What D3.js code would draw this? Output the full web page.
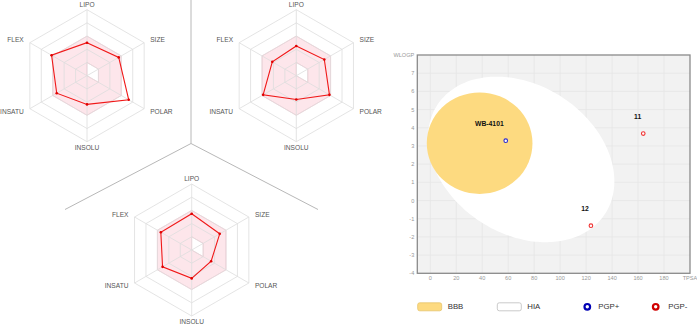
<!DOCTYPE html>
<html>
<head>
<meta charset="utf-8">
<script src="https://cdn.jsdelivr.net/npm/d3@7"></script>
<style>
  html, body { margin: 0; padding: 0; background: #fff; }
  svg { display: block; font-family: "Liberation Sans", Arial, sans-serif; }
</style>
</head>
<body>
<div id="chart"></div>
<script>
// radar axes, clockwise from the top
const radarAxes = ["LIPO", "SIZE", "POLAR", "INSOLU", "INSATU", "FLEX"];
// optimal range (pink zone), as fraction of the radar radius
const optimalUpper = [0.6, 0.6, 0.6, 0.6, 0.6, 0.6];
const optimalLower = [0.2, 0.2, 0.2, 0, 0, 0];
// one row per molecule
const radarValues = [
    [0.50, 0.555, 0.73, 0.435, 0.53, 0.62],
    [0.45, 0.49, 0.58, 0.36, 0.58, 0.42],
    [0.55, 0.49, 0.34, 0.43, 0.51, 0.54]
];
const radarRings = [0.2, 0.4, 0.6, 0.8, 1.0];

// boiled egg
const xTicks = [0, 20, 40, 60, 80, 100, 120, 140, 160, 180, 200];
const yTicks = [-4, -3, -2, -1, 0, 1, 2, 3, 4, 5, 6, 7, 8];
const molNames = ["WB-4101", "11", "12"];
const molTPSA = [58.1, 164, 123.7];
const molWLOGP = [3.29, 3.68, -1.38];
const molPGP = ["PGP+", "PGP-", "PGP-"];
// yolk (BBB): centre and half widths in data units
const yolk = {cx: 38, cy: 3.15, rx: 40.7, ry: 2.79};
// white (HIA): centre and two conjugate half diameters in data units
const white = {cx: 70, cy: 2.26, a: [64.6, -2.99], b: [-31.25, -3.43]};
const legendItems = ["BBB", "HIA", "PGP+", "PGP-"];

const W = 697, H = 324;
const svg = d3.select("#chart").append("svg")
    .attr("width", W)
    .attr("height", H);

// --- divider between the three radars
const divider = svg.append("g")
    .attr("stroke", "#b8b8b8")
    .attr("stroke-width", 1)
    .attr("fill", "none");
divider.append("path").attr("d", "M191,0 L191,143.5 L65,209.5 M191,143.5 L318,209.5");

// --- radars
const R = 66;
const rScale = d3.scaleLinear().domain([0, 1]).range([0, R]);
const angle = i => i * Math.PI / 3;   // 0 = up, clockwise
const radarCenters = [[87, 75.7], [296.3, 75.7], [191.7, 250]];

const radial = d3.lineRadial()
    .angle((d, i) => angle(i))
    .radius(d => rScale(d))
    .curve(d3.curveLinearClosed);

radarValues.forEach((vals, k) => {
    const [cx, cy] = radarCenters[k];
    const g = svg.append("g").attr("transform", `translate(${cx},${cy})`);

    // pink optimal zone with its hole
    g.append("path")
        .attr("d", radial(optimalUpper) + radial(optimalLower))
        .attr("fill-rule", "evenodd")
        .attr("fill", "rgba(240,60,100,0.13)")
        .attr("stroke", "rgba(240,60,100,0.25)")
        .attr("stroke-width", 0.8);

    // grid
    g.selectAll(".ring")
        .data(radarRings)
        .join("path")
        .attr("class", "ring")
        .attr("d", r => radial(radarAxes.map(() => r)))
        .attr("fill", "none")
        .attr("stroke", "#ddd")
        .attr("stroke-width", 0.8);

    g.selectAll(".spoke")
        .data(radarAxes)
        .join("line")
        .attr("class", "spoke")
        .attr("x1", 0).attr("y1", 0)
        .attr("x2", (d, i) => rScale(1) * Math.sin(angle(i)))
        .attr("y2", (d, i) => -rScale(1) * Math.cos(angle(i)))
        .attr("stroke", "#ddd")
        .attr("stroke-width", 0.8);

    // labels
    g.selectAll(".axlabel")
        .data(radarAxes)
        .join("text")
        .attr("class", "axlabel")
        .text(d => d)
        .attr("x", (d, i) => (rScale(1) + 7) * Math.sin(angle(i)))
        .attr("y", (d, i) => -(rScale(1) + 5.5) * Math.cos(angle(i)))
        .attr("text-anchor", (d, i) => {
            const s = Math.sin(angle(i));
            return Math.abs(s) < 0.01 ? "middle" : (s > 0 ? "start" : "end");
        })
        .attr("dominant-baseline", "central")
        .attr("font-size", 6.6)
        .attr("fill", "#555");

    // molecule
    g.append("path")
        .attr("d", radial(vals))
        .attr("fill", "none")
        .attr("stroke", "#f01818")
        .attr("stroke-width", 1.1);

    g.selectAll(".dot")
        .data(vals)
        .join("circle")
        .attr("class", "dot")
        .attr("cx", (d, i) => rScale(d) * Math.sin(angle(i)))
        .attr("cy", (d, i) => -rScale(d) * Math.cos(angle(i)))
        .attr("r", 1.3)
        .attr("fill", "#e00000");
});

// --- boiled egg
const x = d3.scaleLinear().domain([-10, 200]).range([417.3, 690]);
const y = d3.scaleLinear().domain([-4, 8]).range([273.3, 55]);

const plot = svg.append("g");
plot.append("rect")
    .attr("x", x(-10)).attr("y", y(8))
    .attr("width", x(200) - x(-10)).attr("height", y(-4) - y(8))
    .attr("fill", "#f2f2f2");

plot.selectAll(".vgrid")
    .data(xTicks.slice(0, -1))
    .join("line")
    .attr("class", "vgrid")
    .attr("x1", d => x(d)).attr("x2", d => x(d))
    .attr("y1", y(8)).attr("y2", y(-4))
    .attr("stroke", "#e6e6e6").attr("stroke-width", 0.8);

plot.selectAll(".hgrid")
    .data(yTicks.slice(1, -1))
    .join("line")
    .attr("class", "hgrid")
    .attr("y1", d => y(d)).attr("y2", d => y(d))
    .attr("x1", x(-10)).attr("x2", x(200))
    .attr("stroke", "#e6e6e6").attr("stroke-width", 0.8);

// white (HIA)
const whitePts = d3.range(0, 360, 3).map(t => {
    const r = t * Math.PI / 180;
    return [x(white.cx + white.a[0] * Math.cos(r) + white.b[0] * Math.sin(r)),
            y(white.cy + white.a[1] * Math.cos(r) + white.b[1] * Math.sin(r))];
});
plot.append("path")
    .attr("d", d3.line().curve(d3.curveCardinalClosed)(whitePts))
    .attr("fill", "#fff");

// yolk (BBB)
plot.append("ellipse")
    .attr("cx", x(yolk.cx)).attr("cy", y(yolk.cy))
    .attr("rx", x(yolk.cx + yolk.rx) - x(yolk.cx))
    .attr("ry", y(yolk.cy - yolk.ry) - y(yolk.cy))
    .attr("fill", "#fdda80");

// frame
plot.append("rect")
    .attr("x", x(-10)).attr("y", y(8))
    .attr("width", x(200) - x(-10)).attr("height", y(-4) - y(8))
    .attr("fill", "none")
    .attr("stroke", "#8a8a8a")
    .attr("stroke-width", 1.3);

// tick labels
plot.selectAll(".ylab")
    .data(yTicks)
    .join("text")
    .attr("class", "ylab")
    .text(d => d === 8 ? "WLOGP" : d)
    .attr("x", x(-10) - 3)
    .attr("y", d => y(d))
    .attr("text-anchor", "end")
    .attr("dominant-baseline", "central")
    .attr("font-size", 5.6)
    .attr("fill", "#999");

plot.selectAll(".xlab")
    .data(xTicks)
    .join("text")
    .attr("class", "xlab")
    .text(d => d === 200 ? "TPSA" : d)
    .attr("x", d => x(d))
    .attr("y", y(-4) + 5)
    .attr("text-anchor", "middle")
    .attr("dominant-baseline", "central")
    .attr("font-size", 5.6)
    .attr("fill", "#999");

// molecules
const pgpColor = {"PGP+": "#2a2ad0", "PGP-": "#f03030"};
plot.selectAll(".mol")
    .data(molNames)
    .join("circle")
    .attr("class", "mol")
    .attr("cx", (d, i) => x(molTPSA[i]))
    .attr("cy", (d, i) => y(molWLOGP[i]))
    .attr("r", 1.8)
    .attr("fill", "#fff")
    .attr("stroke", (d, i) => pgpColor[molPGP[i]])
    .attr("stroke-width", 1.1);

plot.selectAll(".molname")
    .data(molNames)
    .join("text")
    .attr("class", "molname")
    .text(d => d)
    .attr("x", (d, i) => x(molTPSA[i]) - 2)
    .attr("y", (d, i) => y(molWLOGP[i]) - 15)
    .attr("text-anchor", "end")
    .attr("font-size", 6.8)
    .attr("font-weight", "bold")
    .attr("fill", "#111");

// legend
const legendX = [417.7, 497.3, 587.3, 655.7];
const legendY = 306.8;
const lg = svg.append("g");
legendItems.forEach((name, i) => {
    if (i < 2) {
        lg.append("rect")
            .attr("x", legendX[i]).attr("y", legendY - 4)
            .attr("width", 24).attr("height", 8)
            .attr("rx", 2)
            .attr("fill", i === 0 ? "#fdda80" : "#fff")
            .attr("stroke", i === 0 ? "#e6c46c" : "#bdbdbd")
            .attr("stroke-width", 0.8);
        lg.append("text")
            .text(name)
            .attr("x", legendX[i] + 30).attr("y", legendY)
            .attr("dominant-baseline", "central")
            .attr("font-size", 7.8).attr("fill", "#333");
    } else {
        lg.append("circle")
            .attr("cx", legendX[i]).attr("cy", legendY)
            .attr("r", 2.8)
            .attr("fill", "#fff")
            .attr("stroke", i === 2 ? "#0000b4" : "#d00000")
            .attr("stroke-width", 2.2);
        lg.append("text")
            .text(name)
            .attr("x", legendX[i] + (i === 2 ? 11 : 12.5)).attr("y", legendY)
            .attr("dominant-baseline", "central")
            .attr("font-size", 7.8).attr("fill", "#333");
    }
});
</script>
</body>
</html>
